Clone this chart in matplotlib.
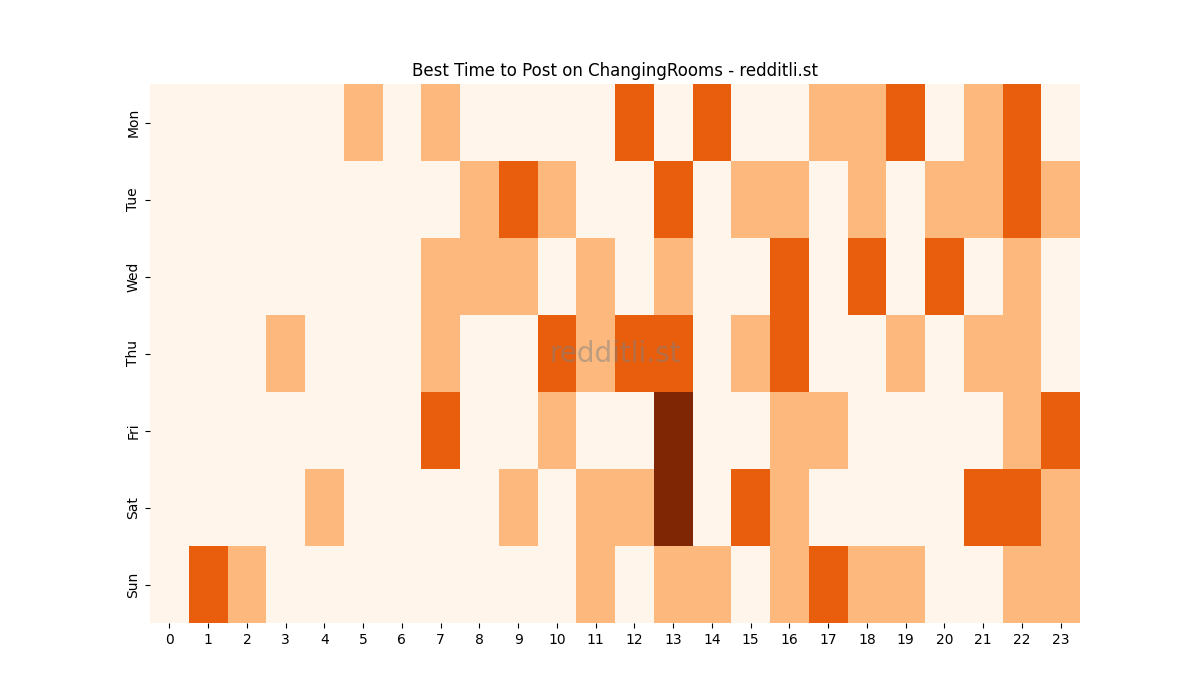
import matplotlib
matplotlib.use("Agg")
import matplotlib.pyplot as plt
import seaborn as sns
import numpy as np

days = ["Mon", "Tue", "Wed", "Thu", "Fri", "Sat", "Sun"]
hours = list(range(24))

mon = [0,0,0,0,0,1,0,1,0,0,0,0,2,0,2,0,0,1,1,2,0,1,2,0]
tue = [0,0,0,0,0,0,0,0,1,2,1,0,0,2,0,1,1,0,1,0,1,1,2,1]
wed = [0,0,0,0,0,0,0,1,1,1,0,1,0,1,0,0,2,0,2,0,2,0,1,0]
thu = [0,0,0,1,0,0,0,1,0,0,2,1,2,2,0,1,2,0,0,1,0,1,1,0]
fri = [0,0,0,0,0,0,0,2,0,0,1,0,0,3,0,0,1,1,0,0,0,0,1,2]
sat = [0,0,0,0,1,0,0,0,0,1,0,1,1,3,0,2,1,0,0,0,0,2,2,1]
sun = [0,2,1,0,0,0,0,0,0,0,0,1,0,1,1,0,1,2,1,1,0,0,1,1]

data = np.array([mon, tue, wed, thu, fri, sat, sun])

fig, ax = plt.subplots(figsize=(12, 7), dpi=100)
sns.heatmap(data, cmap="Oranges", vmin=0, vmax=3, cbar=False, ax=ax,
            xticklabels=hours, yticklabels=days)
ax.set_yticklabels(days, rotation=90, va="center")
ax.set_xticklabels(hours, rotation=0)
ax.set_title("Best Time to Post on ChangingRooms - redditli.st")
ax.text(0.5, 0.5, "redditli.st", transform=ax.transAxes, fontsize=20,
        color="gray", alpha=0.5, ha="center", va="center")
fig.savefig("out.png")
